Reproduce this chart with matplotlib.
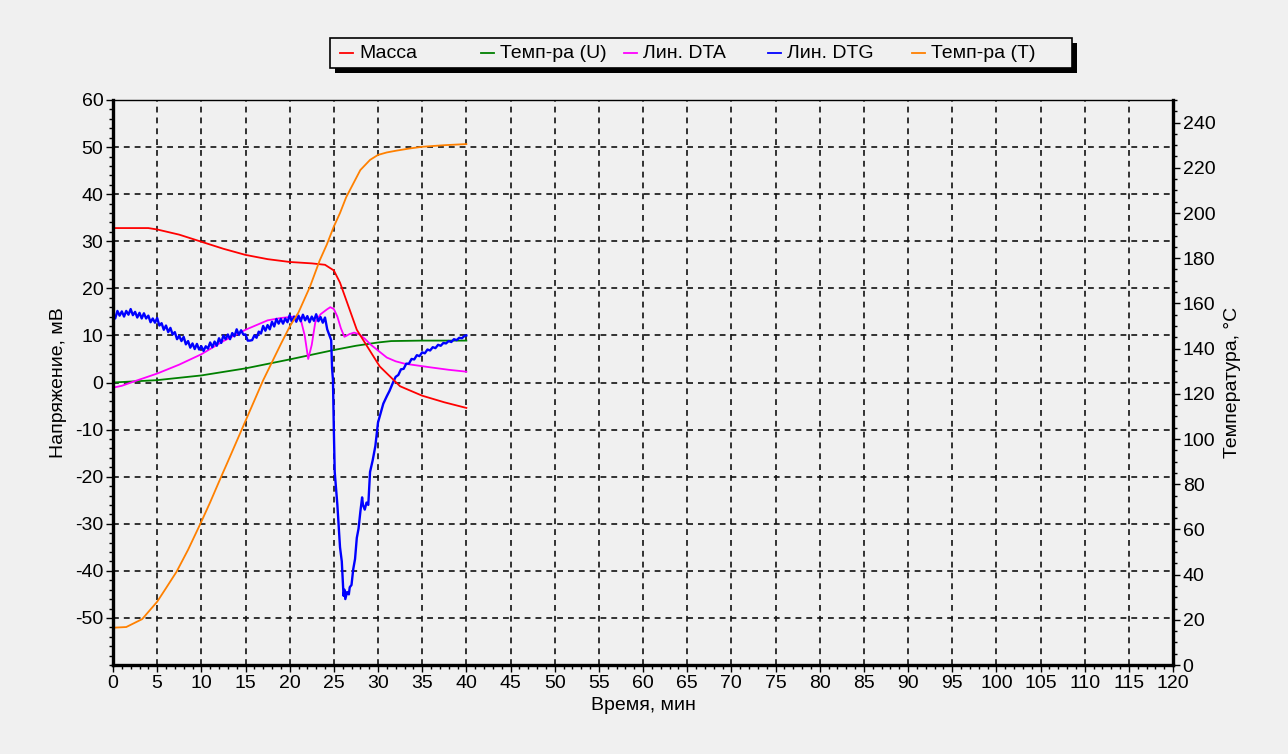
import matplotlib
matplotlib.use("Agg")
import matplotlib.pyplot as plt
from matplotlib.ticker import MultipleLocator
from matplotlib.patches import Rectangle
from matplotlib.lines import Line2D

# =====================
# DATA
# =====================
mass_t = [0, 4, 5, 7.5, 10, 12.5, 15, 17.5, 20, 22.5, 24, 25, 25.7, 26.5, 27.6,
          28.8, 30.2, 32.5, 35, 37.5, 40]
mass_v = [32.8, 32.8, 32.5, 31.4, 29.9, 28.4, 27.1, 26.2, 25.6, 25.3, 25.0, 23.8,
          21.2, 17.0, 11.2, 7.6, 3.4, -0.8, -2.8, -4.2, -5.4]

tempu_t = [0, 5, 10, 15, 20, 22.5, 25, 27.5, 30, 31.5, 35, 40]
tempu_v = [0, 0.5, 1.5, 3.0, 4.9, 5.9, 6.9, 7.8, 8.5, 8.8, 8.9, 8.9]

dta_t = [0, 1, 2.5, 5, 7.5, 10, 12.5, 15, 17.5, 19, 20.5, 21.2, 21.7, 22.1, 22.5,
         22.9, 23.5, 24.2, 24.6, 25.0, 25.4, 25.8, 26.2, 26.8, 27.3, 27.9, 28.5,
         29.2, 30, 31, 32, 33, 34.5, 36, 38, 40]
dta_v = [-1.1, -0.7, 0.3, 1.9, 3.8, 6.0, 8.8, 11.2, 13.2, 13.7, 14.0, 13.8, 10.0,
         5.0, 8.0, 12.8, 14.5, 15.5, 16.0, 15.6, 14.0, 11.5, 9.7, 10.3, 10.6, 10.2,
         9.3, 8.0, 6.8, 5.3, 4.5, 4.0, 3.6, 3.2, 2.7, 2.3]

# noisy DTG trace, 0-24 min every 0.25 min
dtg_noisy = [14.5, 13.6, 15.2, 14.2, 15.1, 14.0, 15.2, 14.4, 15.6, 14.3, 15.0, 13.8,
             14.8, 13.6, 14.7, 13.6, 14.2, 12.8, 13.6, 12.7, 13.7, 12.1, 12.6, 11.2,
             12.1, 10.7, 11.6, 10.2, 10.7, 9.2, 9.9, 8.8, 9.7, 8.1, 8.8, 7.4,
             8.3, 7.1, 8.2, 7.0, 7.7, 6.7, 7.7, 7.2, 8.5, 7.5, 8.7, 7.8,
             9.4, 8.4, 10.0, 9.2, 10.2, 9.2, 10.5, 9.8, 11.3, 10.1, 11.1, 10.2,
             10.2, 8.9, 8.9, 9.0, 10.0, 9.5, 10.8, 10.4, 12.0, 11.0, 12.2, 11.3,
             12.9, 11.9, 13.5, 12.5, 13.5, 12.5, 13.6, 12.8, 14.3, 12.9, 14.0, 12.9,
             14.2, 13.0, 14.4, 13.2, 14.1, 12.8, 14.0, 13.1, 14.5, 13.0, 13.9, 12.7,
             13.8]
dtg_tail_t = [24.25, 24.5, 24.7, 24.8, 24.9, 25.0, 25.1, 25.4, 25.7, 25.9, 26.1, 26.2,
              26.3, 26.5, 26.7, 26.8, 27.0, 27.2, 27.4, 27.6, 27.8, 28.0, 28.2, 28.3,
              28.5, 28.7, 28.9, 29.1, 29.4, 29.7, 30.0, 30.3, 30.6, 31.0, 31.3, 31.7,
              32.0, 32.3, 32.6, 32.9, 33.2, 33.5, 33.8, 34.1, 34.4, 34.7, 35.0, 35.3,
              35.6, 35.9, 36.2, 36.5, 36.8, 37.1, 37.4, 37.7, 38.0, 38.3, 38.6, 38.9,
              39.2, 39.5, 39.8, 40.0]
dtg_tail_v = [11.3, 10.0, 9.0, 3.0, 0.6, -10.0, -19.0, -26.0, -35.0, -38.0, -45.3, -44.0,
              -46.0, -44.5, -45.0, -43.5, -43.0, -39.6, -37.5, -33.0, -31.0, -27.5, -24.4, -26.0,
              -27.0, -25.5, -26.0, -19.0, -16.5, -13.5, -8.5, -6.5, -4.5, -2.9, -1.8, 0.0,
              1.2, 1.6, 2.8, 2.9, 4.0, 4.0, 5.0, 4.9, 5.8, 5.6, 6.4, 6.2,
              7.0, 6.8, 7.5, 7.3, 8.0, 7.8, 8.4, 8.3, 8.8, 8.6, 9.2, 9.0,
              9.5, 9.4, 9.9, 10.0]

tempt_t = [0, 1.5, 3.3, 5, 6, 7.2, 8.5, 10, 11, 12.1, 13, 14, 15, 16, 17, 18, 19, 20,
           21, 22.3, 23.4, 24.2, 25, 25.7, 26.4, 27.2, 28, 29.1, 30, 31, 32.1, 33.5,
           35, 37.5, 40]
tempt_v = [16.5, 16.8, 20.3, 28, 34, 41.3, 51, 63.4, 72, 82, 90, 99, 108, 117, 126, 134,
           142, 149.7, 156, 167.4, 179, 186, 194, 200, 207, 213, 219, 223.5, 225.7,
           226.8, 227.6, 228.5, 229.3, 230, 230.5]

labels = ["Масса", "Темп-ра (U)", "Лин. DTA", "Лин. DTG", "Темп-ра (T)"]
colors = ["#ff0000", "#008000", "#ff00ff", "#0000ff", "#ff8000"]

dtg_t = [i * 0.25 for i in range(len(dtg_noisy))] + dtg_tail_t
dtg_v = dtg_noisy + dtg_tail_v

# =====================
# FIGURE
# =====================
FS = 14
plt.rcParams["font.family"] = ["Liberation Sans", "DejaVu Sans"]
plt.rcParams["font.size"] = FS
plt.rcParams["axes.unicode_minus"] = False
BG = "#f0f0f0"

W, H = 1288, 754
fig = plt.figure(figsize=(W / 100, H / 100), dpi=100, facecolor=BG)
ax = fig.add_axes([113 / W, 1 - 665 / H, (1173 - 113) / W, (665 - 100) / H])
ax.set_facecolor(BG)
ax2 = ax.twinx()

lw = 1.3
ax.plot(tempu_t, tempu_v, color=colors[1], lw=lw)
ax.plot(dta_t, dta_v, color=colors[2], lw=lw)
ax.plot(dtg_t, dtg_v, color=colors[3], lw=1.7)
ax.plot(mass_t, mass_v, color=colors[0], lw=lw)
ax2.plot(tempt_t, tempt_v, color=colors[4], lw=lw)

# axes limits / ticks
ax.set_xlim(0, 120)
ax.set_ylim(-60, 60)
ax.set_yticks(range(-50, 61, 10))
ax.xaxis.set_major_locator(MultipleLocator(5))
ax.xaxis.set_minor_locator(MultipleLocator(1))
ax.yaxis.set_minor_locator(MultipleLocator(2))
ax2.set_ylim(0, 250)
ax2.set_yticks(range(0, 241, 20))
ax2.yaxis.set_minor_locator(MultipleLocator(5))

for a in (ax, ax2):
    a.tick_params(which="major", length=5, width=1, direction="out", colors="black",
                  labelsize=FS, pad=2)
    a.tick_params(which="minor", length=3, width=1, direction="out")
for sp in ("left", "bottom", "right"):
    ax2.spines[sp].set_linewidth(2.4)
ax2.spines["top"].set_linewidth(1)
for sp in ax.spines.values():
    sp.set_visible(False)

ax.grid(True, which="major", color="#111111", linestyle=(0, (3.5, 3)), lw=1.2)

ax.set_xlabel("Время, мин", fontsize=FS, labelpad=4)
ax.set_ylabel("Напряжение, мВ", fontsize=FS, labelpad=6)
ax2.set_ylabel("Температура, °C", fontsize=FS, labelpad=6)

# =====================
# LEGEND (boxed, with hard shadow)
# =====================
tf = fig.transFigure
bx0, bx1, by0, by1 = 330, 1072, 38, 68
fig.add_artist(Rectangle(((bx0 + 5) / W, 1 - (by1 + 5) / H), (bx1 - bx0) / W,
                         (by1 - by0) / H, transform=tf, facecolor="black",
                         edgecolor="black", lw=0))
fig.add_artist(Rectangle((bx0 / W, 1 - by1 / H), (bx1 - bx0) / W, (by1 - by0) / H,
                         transform=tf, facecolor=BG, edgecolor="black", lw=1.2))
col_x = [340, 481, 624, 768, 912]
ly = 1 - 53 / H
for cx, lab, c in zip(col_x, labels, colors):
    fig.add_artist(Line2D([cx / W, (cx + 13) / W], [ly, ly], transform=tf, color=c, lw=1.3))
    fig.text((cx + 19) / W, ly, lab, va="center", ha="left", fontsize=FS)

fig.savefig("out.png", dpi=100, facecolor=BG)
